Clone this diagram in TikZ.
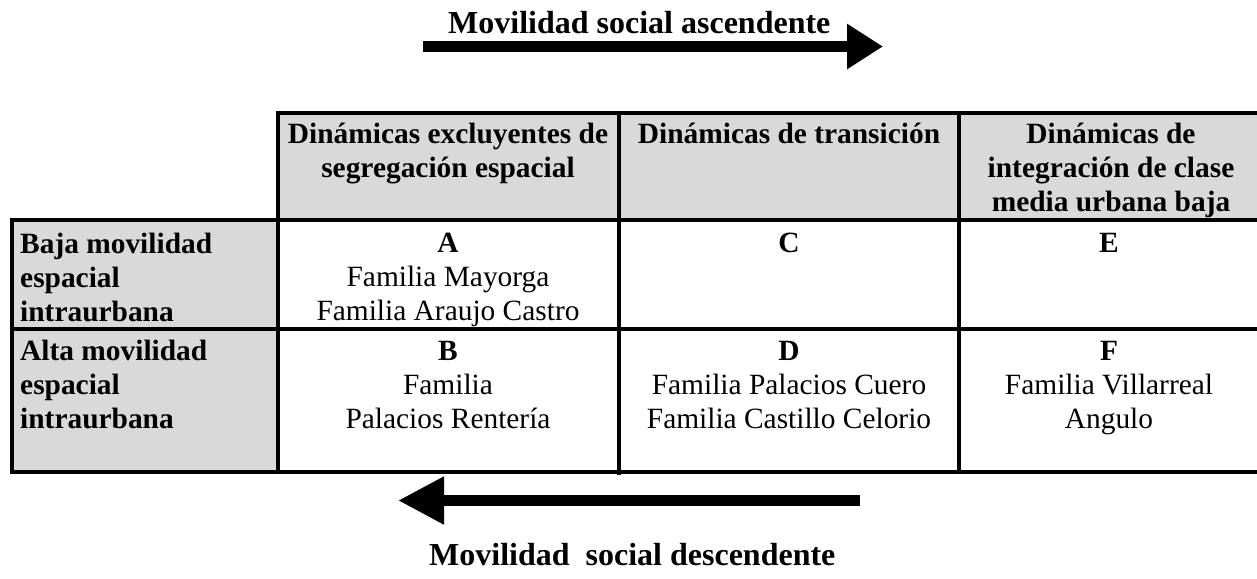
\documentclass[tikz,border=0pt]{standalone}
\usepackage{fontspec}
\setmainfont{Liberation Serif}
\usetikzlibrary{arrows.meta}
\definecolor{cellgray}{HTML}{D9D9D9}
\newcommand{\cbox}[1]{\vtop{\halign{\hfil##\hfil\cr#1\crcr}}}
\newcommand{\lbox}[1]{\vtop{\halign{##\hfil\cr#1\crcr}}}
\begin{document}
\begin{tikzpicture}[x=1pt,y=-1pt,
  body/.style={inner sep=0pt, anchor=base, font=\fontsize{29.4}{34}\selectfont},
  headtxt/.style={inner sep=0pt, anchor=base, font=\fontsize{29.4}{34}\selectfont\bfseries},
  rowtxt/.style={inner sep=0pt, anchor=base west, font=\fontsize{29.4}{34}\selectfont\bfseries},
  titletxt/.style={inner sep=0pt, anchor=base west, font=\fontsize{32}{38}\selectfont\bfseries},
  rule/.style={line width=3.2pt, line cap=rect},
  bigarrow/.style={line width=11pt}]
\useasboundingbox (0,0) rectangle (1257,578);
\fill[white] (0,0) rectangle (1257,578);

% shaded header areas
\fill[cellgray] (278,113) rectangle (1257,220);
\fill[cellgray] (12,220) rectangle (278,472);

% table rules
\draw[rule] (278,113) -- (1257,113);
\draw[rule] (12,220) -- (1257,220);
\draw[rule] (12,329) -- (1257,329);
\draw[rule] (12,472) -- (1257,472);
\draw[rule] (12,220) -- (12,472);
\draw[rule] (278,113) -- (278,472);
\draw[rule] (619,113) -- (619,473);
\draw[rule] (959,113) -- (959,472);

% column headers
\node[headtxt] (h1) at (448,143) {\cbox{Dinámicas excluyentes de\cr segregación espacial}};
\node[headtxt] (h2) at (789,143) {\cbox{Dinámicas de transición}};
\node[headtxt] (h3) at (1111,143) {\cbox{Dinámicas de\cr integración de clase\cr media urbana baja}};

% row headers
\node[rowtxt] (r1) at (20,253) {\lbox{Baja movilidad\cr espacial\cr intraurbana}};
\node[rowtxt] (r2) at (20,360) {\lbox{Alta movilidad\cr espacial\cr intraurbana}};

% cells
\node[body] (cA) at (448,252) {\cbox{\bfseries A\cr Familia Mayorga\cr Familia Araujo Castro}};
\node[body] (cC) at (789,252) {\cbox{\bfseries C}};
\node[body] (cE) at (1109,252) {\cbox{\bfseries E}};
\node[body] (cB) at (448,360) {\cbox{\bfseries B\cr Familia\cr Palacios Rentería}};
\node[body] (cD) at (789,360) {\cbox{\bfseries D\cr Familia Palacios Cuero\cr Familia Castillo Celorio}};
\node[body] (cF) at (1109,360) {\cbox{\bfseries F\cr Familia Villarreal\cr Angulo}};

% titles and arrows
\node[titletxt] (up) at (448,34) {Movilidad social ascendente};
\node[titletxt] (down) at (429,565) {Movilidad\ \ social descendente};
\coordinate (upS) at (423,46.5);
\coordinate (upE) at (883,46.5);
\coordinate (dnS) at (860,500.5);
\coordinate (dnE) at (398,500.5);
\draw[bigarrow, -{Triangle[length=36pt,width=43pt]}] (upS) -- (upE);
\draw[bigarrow, -{Triangle[length=46pt,width=45pt]}] (dnS) -- (dnE);
\end{tikzpicture}
\end{document}
